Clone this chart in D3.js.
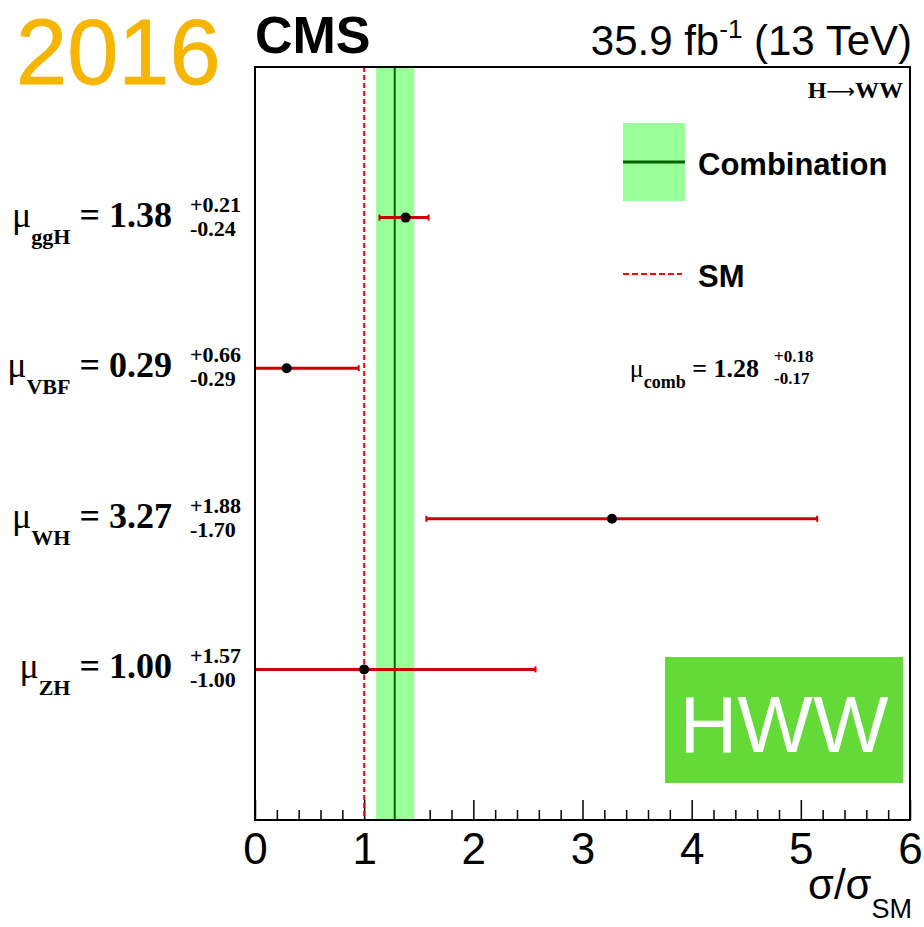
<!DOCTYPE html>
<html>
<head>
<meta charset="utf-8">
<script src="https://cdn.jsdelivr.net/npm/d3@7"></script>
<style>
  body { margin: 0; background: #fff; }
  svg { display: block; }
</style>
</head>
<body>
<svg id="chart" width="924" height="927"></svg>
<script>
// Signal strength per production mode (H -> WW, 2016 data)
const processes = ["ggH", "VBF", "WH", "ZH"];
const muValues = [1.38, 0.29, 3.27, 1.00];
const errUp = [0.21, 0.66, 1.88, 1.57];
const errDown = [0.24, 0.29, 1.70, 1.00];
const rowIndex = [4, 3, 2, 1];

// Combined result and SM reference
const muComb = [1.28];
const combUp = [0.18];
const combDown = [0.17];
const smValue = [1.0];

const xMajorTicks = [0, 1, 2, 3, 4, 5, 6];
const xMinorTicks = d3.range(0, 30).map(i => i / 5).filter(v => !Number.isInteger(v));

const SANS = "'Liberation Sans', Arial, Helvetica, sans-serif";
const SERIF = "'Liberation Serif', 'Times New Roman', serif";

const svg = d3.select("#chart");
const frame = { left: 255, right: 910, top: 67, bottom: 820 };

const x = d3.scaleLinear().domain([0, 6]).range([frame.left, frame.right]);
const y = d3.scaleLinear().domain([0, 5]).range([frame.bottom, frame.top]);
const fmt = d3.format(".2f");

// --- x axis: minor and major ticks pointing into the frame
const minorAxis = d3.axisBottom(x).tickValues(xMinorTicks).tickSize(-10).tickFormat("");
const majorAxis = d3.axisBottom(x).tickValues(xMajorTicks).tickSize(-20).tickPadding(13)
  .tickFormat(d3.format("d"));

const gMinor = svg.append("g").attr("transform", `translate(0,${frame.bottom})`).call(minorAxis);
gMinor.select(".domain").remove();
gMinor.selectAll(".tick line").attr("stroke", "#000").attr("stroke-width", 1.5);

const gMajor = svg.append("g").attr("transform", `translate(0,${frame.bottom})`).call(majorAxis);
gMajor.select(".domain").remove();
gMajor.selectAll(".tick line").attr("stroke", "#000").attr("stroke-width", 1.5);
gMajor.selectAll(".tick text")
  .attr("font-family", SANS).attr("font-size", 44).attr("fill", "#000");

// --- combination band and central value
svg.append("rect")
  .attr("x", x(muComb[0] - combDown[0]))
  .attr("width", x(muComb[0] + combUp[0]) - x(muComb[0] - combDown[0]))
  .attr("y", frame.top).attr("height", frame.bottom - frame.top)
  .attr("fill", "#99ff99");

svg.append("line")
  .attr("x1", x(muComb[0])).attr("x2", x(muComb[0]))
  .attr("y1", frame.top).attr("y2", frame.bottom)
  .attr("stroke", "#006400").attr("stroke-width", 2);

// --- SM expectation
svg.append("line")
  .attr("x1", x(smValue[0])).attr("x2", x(smValue[0]))
  .attr("y1", frame.top).attr("y2", frame.bottom)
  .attr("stroke", "#ff0000").attr("stroke-width", 2).attr("stroke-dasharray", "5,3");

// --- per-process measurements
const rows = processes.map((p, i) => ({
  name: p, mu: muValues[i], up: errUp[i], down: errDown[i], row: rowIndex[i]
}));

const gRows = svg.append("g").selectAll("g").data(rows).join("g");

gRows.append("line")
  .attr("x1", d => x(d.mu - d.down)).attr("x2", d => x(d.mu + d.up))
  .attr("y1", d => y(d.row)).attr("y2", d => y(d.row))
  .attr("stroke", "#cc0000").attr("stroke-width", 3);

gRows.selectAll(".cap")
  .data(d => [{ v: d.mu - d.down, r: d.row }, { v: d.mu + d.up, r: d.row }])
  .join("line")
  .attr("class", "cap")
  .attr("x1", d => x(d.v)).attr("x2", d => x(d.v))
  .attr("y1", d => y(d.r) - 3).attr("y2", d => y(d.r) + 3)
  .attr("stroke", "#cc0000").attr("stroke-width", 2);

gRows.append("circle")
  .attr("cx", d => x(d.mu)).attr("cy", d => y(d.row)).attr("r", 5)
  .attr("fill", "#000");

// --- left-hand labels: mu_proc = value (+up / -down)
const lab = svg.append("g").selectAll("g").data(rows).join("g");
const mainText = lab.append("text")
  .attr("x", 172).attr("y", d => y(d.row) + 9)
  .attr("text-anchor", "end")
  .attr("font-family", SERIF).attr("fill", "#000");
mainText.append("tspan").attr("font-size", 36).text("μ");
mainText.append("tspan").attr("font-size", 22).attr("font-weight", "bold")
  .attr("dy", 17).text(d => d.name);
mainText.append("tspan").attr("font-size", 36).attr("font-weight", "bold")
  .attr("dy", -17).text(d => " = " + fmt(d.mu));

lab.append("text")
  .attr("x", 190).attr("y", d => y(d.row) - 6)
  .attr("font-family", SERIF).attr("font-weight", "bold").attr("font-size", 22)
  .text(d => "+" + fmt(d.up));
lab.append("text")
  .attr("x", 190).attr("y", d => y(d.row) + 18)
  .attr("font-family", SERIF).attr("font-weight", "bold").attr("font-size", 22)
  .text(d => "-" + fmt(d.down));

// --- combined value label
const combText = svg.append("text")
  .attr("x", 759).attr("y", 377).attr("text-anchor", "end")
  .attr("font-family", SERIF).attr("fill", "#000");
combText.append("tspan").attr("font-size", 26).text("μ");
combText.append("tspan").attr("font-size", 18).attr("font-weight", "bold")
  .attr("dy", 11).text("comb");
combText.append("tspan").attr("font-size", 26).attr("font-weight", "bold")
  .attr("dy", -11).text(" = " + fmt(muComb[0]));
svg.append("text").attr("x", 774).attr("y", 362)
  .attr("font-family", SERIF).attr("font-weight", "bold").attr("font-size", 17)
  .text("+" + fmt(combUp[0]));
svg.append("text").attr("x", 774).attr("y", 384)
  .attr("font-family", SERIF).attr("font-weight", "bold").attr("font-size", 17)
  .text("-" + fmt(combDown[0]));

// --- legend
const legend = svg.append("g");
legend.append("rect").attr("x", 623).attr("y", 123).attr("width", 62).attr("height", 78)
  .attr("fill", "#99ff99");
legend.append("line").attr("x1", 623).attr("x2", 685).attr("y1", 162).attr("y2", 162)
  .attr("stroke", "#006400").attr("stroke-width", 3);
legend.append("text").attr("x", 698).attr("y", 175)
  .attr("font-family", SANS).attr("font-weight", "bold").attr("font-size", 31)
  .text("Combination");
legend.append("line").attr("x1", 623).attr("x2", 682).attr("y1", 274).attr("y2", 274)
  .attr("stroke", "#ff0000").attr("stroke-width", 2).attr("stroke-dasharray", "6,3");
legend.append("text").attr("x", 698).attr("y", 287)
  .attr("font-family", SANS).attr("font-weight", "bold").attr("font-size", 31)
  .text("SM");

// --- channel tag
const tag = svg.append("text").attr("x", 903).attr("y", 98).attr("text-anchor", "end")
  .attr("font-family", SERIF).attr("font-weight", "bold").attr("font-size", 24);
tag.append("tspan").text("H");
tag.append("tspan").attr("font-family", "'DejaVu Sans', sans-serif").attr("font-weight", "normal")
  .attr("font-size", 20).text("⟶");
tag.append("tspan").text("WW");

svg.append("rect").attr("x", 665).attr("y", 657).attr("width", 238).attr("height", 126)
  .attr("fill", "#63da38");
svg.append("text").attr("x", 784).attr("y", 752).attr("text-anchor", "middle")
  .attr("font-family", SANS).attr("font-size", 80).attr("fill", "#fff")
  .text("HWW");

// --- frame
svg.append("rect")
  .attr("x", frame.left).attr("y", frame.top)
  .attr("width", frame.right - frame.left).attr("height", frame.bottom - frame.top)
  .attr("fill", "none").attr("stroke", "#000").attr("stroke-width", 2);

// --- header
svg.append("text").attr("x", 16).attr("y", 84)
  .attr("font-family", SANS).attr("font-size", 92).attr("fill", "#f5b500")
  .attr("stroke", "#f5b500").attr("stroke-width", 0.8)
  .text("2016");
svg.append("text").attr("x", 255).attr("y", 53)
  .attr("font-family", SANS).attr("font-weight", "bold").attr("font-size", 52)
  .text("CMS");
const lumi = svg.append("text").attr("x", 912).attr("y", 55).attr("text-anchor", "end")
  .attr("font-family", SANS).attr("font-size", 42);
lumi.append("tspan").text("35.9 fb");
lumi.append("tspan").attr("font-size", 26).attr("dy", -17).text("-1");
lumi.append("tspan").attr("dy", 17).text(" (13 TeV)");

// --- x axis title
const xt = svg.append("text").attr("x", 912).attr("y", 899).attr("text-anchor", "end")
  .attr("font-family", SANS).attr("font-size", 42);
xt.append("tspan").text("σ/σ");
xt.append("tspan").attr("font-size", 27).attr("dy", 19).text("SM");
</script>
</body>
</html>
